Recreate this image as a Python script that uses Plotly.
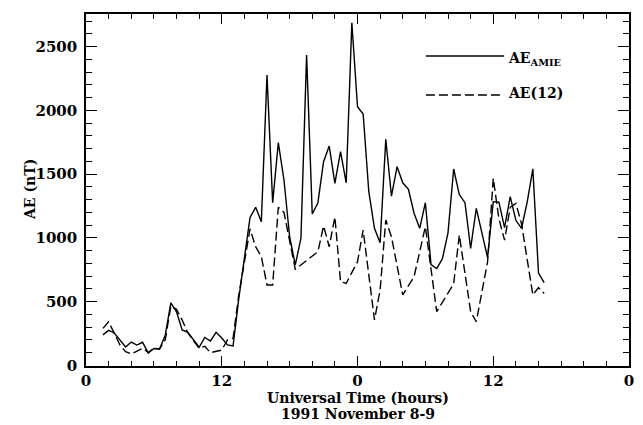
import plotly.graph_objects as go

# AE index from AMIE, hours counted from 0 UT on 1991 November 8
amie_hours = [1.5, 2.0, 2.5, 3.5, 4.0, 4.5, 5.0, 5.5, 6.0, 6.5, 7.0, 7.5, 8.0, 8.5,
              9.0, 10.0, 10.5, 11.0, 11.5, 12.0, 12.5, 13.0, 13.5, 14.5, 15.0,
              15.5, 16.0, 16.5, 17.0, 17.5, 18.0, 18.5, 19.0, 19.5, 20.0, 20.5,
              21.0, 21.5, 22.0, 22.5, 23.0, 23.5, 24.0, 24.5, 25.0, 25.5, 26.0,
              26.5, 27.0, 27.5, 28.0, 28.5, 29.0, 29.5, 30.0, 30.5, 31.0, 31.5,
              32.0, 32.5, 33.0, 33.5, 34.0, 34.5, 35.5, 36.0, 36.5, 37.0, 37.5,
              38.0, 38.5, 39.0, 39.5, 40.0, 40.5]
amie_ae = [240, 275, 255, 145, 184, 160, 182, 97, 133, 130, 235, 490, 420, 278,
           260, 143, 220, 192, 260, 215, 161, 153, 520, 1161, 1240,
           1127, 2277, 1276, 1746, 1454, 1009, 788, 997, 2433, 1187, 1276,
           1597, 1720, 1428, 1676, 1432, 2687, 2028, 1971, 1362, 1075, 962,
           1773, 1328, 1558, 1432, 1381, 1193, 1075, 1276, 790, 760, 835,
           1040, 1540, 1340, 1276, 918, 1232, 845, 1284, 1280, 1080, 1323,
           1138, 1075, 1280, 1542, 725, 649]

# AE index from the 12 standard AE stations
ae12_hours = [1.5, 2.0, 3.0, 3.5, 4.0, 5.0, 5.5, 6.0, 6.5, 7.0, 7.5, 8.0, 8.5,
              9.0, 10.0, 10.5, 11.0, 12.0, 12.5, 13.0, 13.5, 14.5, 15.0, 15.5,
              16.0, 16.5, 17.0, 17.5, 18.5, 20.5, 21.0, 21.5, 22.0, 22.5, 23.0,
              23.5, 24.0, 24.5, 25.5, 26.0, 26.5, 27.0, 28.0, 29.0, 30.0, 31.0,
              32.0, 32.5, 33.0, 34.0, 34.5, 35.5, 36.0, 36.5, 37.0, 37.5, 38.0,
              38.5, 39.5, 40.0, 40.5]
ae12_ae = [291, 343, 161, 108, 90, 135, 103, 135, 129, 200, 466, 440, 356,
           257, 135, 150, 100, 121, 200, 213, 550, 1070, 930, 853,
           631, 631, 1240, 1200, 754, 892, 1093, 931, 1164, 657, 644,
           723, 813, 1062, 357, 592, 1140, 1009, 553, 696, 1088, 422,
           575, 640, 1023, 422, 343, 813, 1467, 1150, 983, 1240, 1271,
           1110, 553, 610, 565]

x_tick_hours = [0, 12, 24, 36, 48]
x_tick_labels = ["0", "12", "0", "12", "0"]
y_tick_values = [0, 500, 1000, 1500, 2000, 2500]

FONT = "DejaVu Serif"
ink = "black"

fig = go.Figure()
fig.add_trace(go.Scatter(x=amie_hours, y=amie_ae, mode="lines",
                         line=dict(color=ink, width=1.4), showlegend=False))
fig.add_trace(go.Scatter(x=ae12_hours, y=ae12_ae, mode="lines",
                         line=dict(color=ink, width=1.4, dash="9px,4px"),
                         showlegend=False))

axis_common = dict(showline=True, linecolor=ink, linewidth=1.5, mirror="allticks",
                   ticks="inside", tickcolor=ink, tickwidth=1.2,
                   showgrid=False, zeroline=False,
                   tickfont=dict(family=FONT, size=15, color=ink, weight="bold"))

fig.update_xaxes(range=[0, 48], tickvals=x_tick_hours, ticktext=x_tick_labels,
                 ticklen=10, ticklabelstandoff=0,
                 minor=dict(dtick=2, tick0=0, ticks="inside", ticklen=5,
                            tickcolor=ink, tickwidth=1.2, showgrid=False),
                 **axis_common)
fig.update_yaxes(range=[-4, 2755], tickvals=y_tick_values,
                 ticklen=11, ticklabelstandoff=4,
                 minor=dict(dtick=100, tick0=0, ticks="inside", ticklen=6,
                            tickcolor=ink, tickwidth=1.2, showgrid=False),
                 **axis_common)

title_font = dict(family=FONT, size=14, color=ink, weight="bold")
annotations = [
    dict(text="Universal Time (hours)", x=0.5, y=0, xref="paper", yref="paper",
         xanchor="center", yanchor="middle", yshift=-32, showarrow=False,
         font=title_font),
    dict(text="1991 November 8-9", x=0.5, y=0, xref="paper", yref="paper",
         xanchor="center", yanchor="middle", yshift=-48, showarrow=False,
         font=title_font),
    dict(text="AE (nT)", x=0, y=0.5, xref="paper", yref="paper", textangle=-90,
         xanchor="center", yanchor="middle", xshift=-56, showarrow=False,
         font=title_font),
    dict(text="AE<sub>AMIE</sub>", x=0.773, y=0.8807, xref="paper", yref="paper",
         xanchor="left", yanchor="middle", yshift=-3, showarrow=False,
         font=title_font),
    dict(text="AE(12)", x=0.773, y=0.7756, xref="paper", yref="paper",
         xanchor="left", yanchor="middle", showarrow=False, font=title_font),
]

# legend keys drawn as short line samples inside the plot area
shapes = [
    dict(type="line", xref="paper", yref="paper", x0=0.626, x1=0.770,
         y0=0.8807, y1=0.8807, line=dict(color=ink, width=1.4)),
    dict(type="line", xref="paper", yref="paper", x0=0.626, x1=0.770,
         y0=0.7699, y1=0.7699, line=dict(color=ink, width=1.4, dash="9px,4px")),
]

fig.update_layout(width=643, height=425,
                  margin=dict(l=86, r=9, t=14, b=59),
                  paper_bgcolor="white", plot_bgcolor="white",
                  font=dict(family=FONT, size=15, color=ink),
                  annotations=annotations, shapes=shapes)

fig.write_html("out.html")
